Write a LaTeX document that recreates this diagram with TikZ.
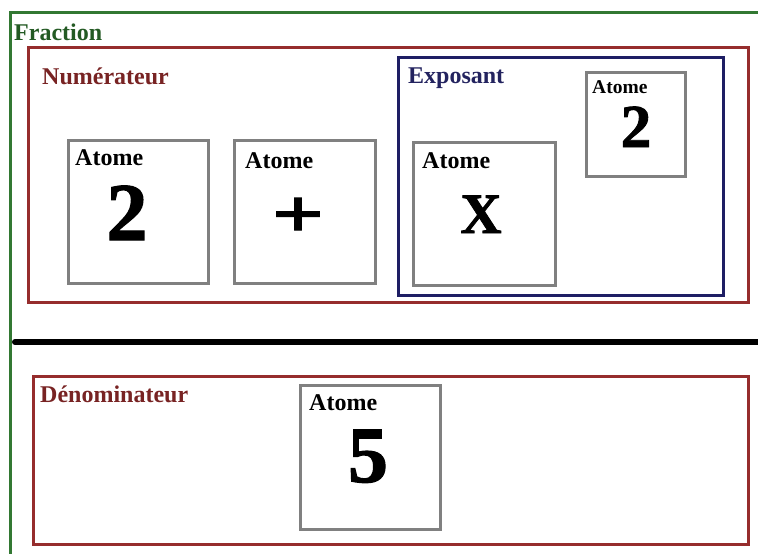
\documentclass[tikz,border=0pt]{standalone}
\usepackage{fontspec}
\setmainfont{Liberation Serif}
\newfontfamily\heavyserif[FakeBold=1.5]{Liberation Serif Bold}
\begin{document}
\begin{tikzpicture}[x=1pt,y=-1pt,
  greenline/.style={draw=frgreen,line width=3pt},
  redbox/.style={draw=frred,line width=3pt},
  bluebox/.style={draw=frblue,line width=3pt},
  atombox/.style={draw=frgray,line width=3pt},
  lbl/.style={anchor=base west,inner sep=0pt,font=\bfseries\fontsize{24}{24}\selectfont},
  big/.style={anchor=base,inner sep=0pt,font=\heavyserif\fontsize{#1}{#1}\selectfont}]
\definecolor{frgreen}{RGB}{50,120,50}
\definecolor{frgreentxt}{RGB}{35,90,35}
\definecolor{frred}{RGB}{150,45,45}
\definecolor{frredtxt}{RGB}{120,35,35}
\definecolor{frblue}{RGB}{30,30,100}
\definecolor{frbluetxt}{RGB}{35,35,95}
\definecolor{frgray}{RGB}{128,128,128}
\useasboundingbox (0,0) rectangle (758,554);
\fill[white] (0,0) rectangle (758,554);
% outer fraction frame
\coordinate (fTR) at (760,12);
\coordinate (fTL) at (10,12);
\coordinate (fBL) at (10,556);
\draw[greenline] (fTR) -- (fTL) -- (fBL);
\node[lbl,text=frgreentxt] (fraction) at (14,40) {Fraction};
% numerator
\draw[redbox] (28,47) rectangle (748,302);
\node[lbl,text=frredtxt] (num) at (42,84) {Numérateur};
\draw[atombox] (68,140) rectangle (208,283);
\node[lbl] (a1) at (75,165) {Atome};
\node[big=82] (v1) at (127,240) {2};
\draw[atombox] (234,140) rectangle (375,283);
\node[lbl] (a2) at (245,168) {Atome};
\node[anchor=center,inner sep=0pt,xscale=1.32,font=\heavyserif\fontsize{69}{69}\selectfont] (v2) at (298,217.5) {+};
% exponent
\draw[bluebox] (398,57) rectangle (723,295);
\node[lbl,text=frbluetxt] (expo) at (408,83) {Exposant};
\draw[atombox] (413,142) rectangle (555,285);
\node[lbl] (a3) at (422,168) {Atome};
\node[big=57] (v3) at (481,233) {X};
\draw[atombox] (586,72) rectangle (685,176);
\node[lbl,font=\bfseries\fontsize{19.5}{19.5}\selectfont] (a4) at (592,93) {Atome};
\node[big=61] (v4) at (636,147) {2};
% fraction bar
\coordinate (barL) at (15,342);
\coordinate (barR) at (758,342);
\draw[line width=6pt,line cap=round] (barL) -- (barR);
% denominator
\draw[redbox] (33,376) rectangle (748,544);
\node[lbl,text=frredtxt] (den) at (40,402) {Dénominateur};
\draw[atombox] (300,385) rectangle (440,529);
\node[lbl] (a5) at (309,410) {Atome};
\node[big=80] (v5) at (368,482) {5};
\end{tikzpicture}
\end{document}
